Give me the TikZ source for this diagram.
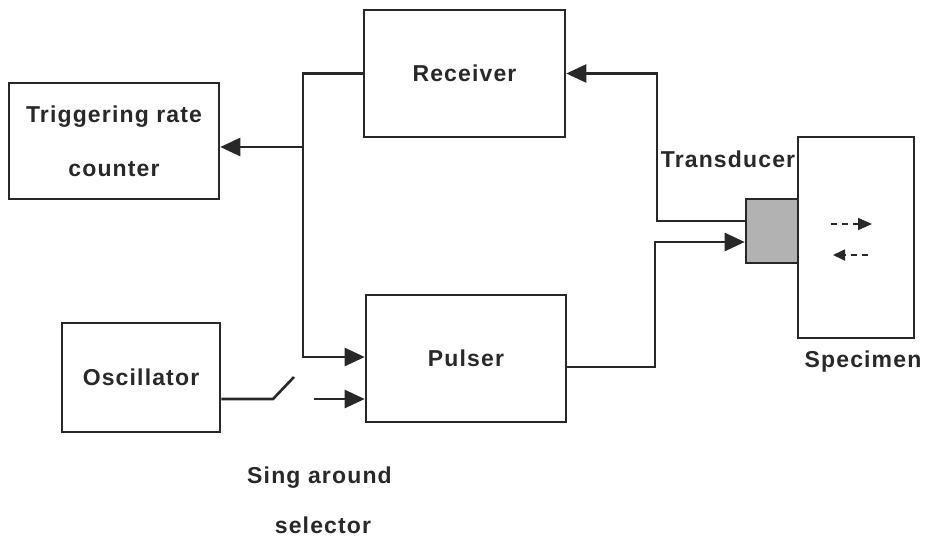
\documentclass[tikz,border=0pt]{standalone}
\usepackage{fontspec}
\setmainfont{Liberation Sans}[LetterSpace=5]
\usetikzlibrary{arrows.meta,calc}
\definecolor{ink}{RGB}{40,40,40}
\definecolor{tdfill}{RGB}{178,178,178}
\begin{document}
\begin{tikzpicture}[x=1pt,y=-1pt,
  box/.style={draw=ink, line width=2.6pt, inner sep=0pt, align=center,
    font=\fontsize{23}{54}\selectfont\bfseries, text=ink},
  lab/.style={font=\fontsize{23}{25}\selectfont\bfseries, text=ink, inner sep=0pt, anchor=base},
  wire/.style={draw=ink, line width=2.6pt},
  arr/.style={wire, -{Triangle[length=20pt,width=18pt]}},
  dasharr/.style={draw=ink, line width=1.8pt, dash pattern=on 6pt off 5pt}]
\useasboundingbox (0,0) rectangle (926,539);
% boxes
\node[box, minimum width=210pt, minimum height=116pt] (trig) at (114,141) {Triggering rate\\counter};
\node[box, minimum width=201pt, minimum height=127pt] (rec) at (464.5,73.5) {Receiver};
\node[box, minimum width=200pt, minimum height=127pt] (pul) at (466,358.5) {Pulser};
\node[box, minimum width=158pt, minimum height=109pt] (osc) at (141,377.5) {Oscillator};
\node[draw=ink, line width=2.6pt, fill=tdfill, minimum width=52pt, minimum height=64pt, inner sep=0pt] (td) at (772,231) {};
\node[box, minimum width=116pt, minimum height=201pt] (spec) at (856,237.5) {};
% labels
\node[lab] (tdl) at (728,167) {Transducer};
\node[lab] (specl) at (863,367) {Specimen};
\node[lab] (sa1) at (319.5,483) {Sing around};
\node[lab] (sa2) at (323,533) {selector};
% junction coordinates
\coordinate (bb) at (303,357);
\coordinate (tj) at (303,147);
\coordinate (ri) at (657,221);
\coordinate (po) at (655,367);
\coordinate (pc) at (655,242);
\coordinate (sw1) at (273,399);
\coordinate (sw2) at (294,377);
\coordinate (sw3) at (314,399);
\coordinate (d1a) at (831,224);
\coordinate (d1b) at (872,224);
\coordinate (d2a) at (868,255);
\coordinate (d2b) at (833,255);
% connectors
\draw[arr] (rec.west) -| (bb) -- (bb -| pul.west);
\draw[arr] (tj) -- (tj -| trig.east);
\draw[arr] (ri -| td.west) -- (ri) |- (rec.east);
\draw[arr] (po -| pul.east) -- (po) -- (pc) -- (pc -| td.west);
\draw[wire] (sw1 -| osc.east) -- (sw1) -- (sw2);
\draw[arr] (sw3) -- (sw3 -| pul.west);
\draw[dasharr, -{Triangle[length=14pt,width=12pt]}] (d1a) -- (d1b);
\draw[dasharr, -{Triangle[length=12pt,width=11pt]}] (d2a) -- (d2b);
\end{tikzpicture}
\end{document}
